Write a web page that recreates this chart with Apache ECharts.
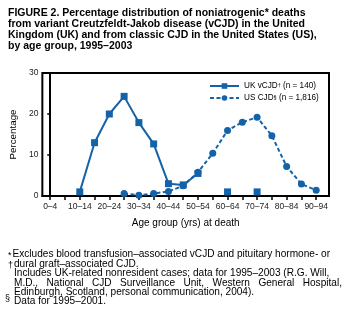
<!DOCTYPE html>
<html><head><meta charset="utf-8">
<script src="https://cdn.jsdelivr.net/npm/echarts@6/dist/echarts.min.js"></script>
<style>html,body{margin:0;padding:0;background:#fff}#c{width:347px;height:322px}</style>
</head><body><div id="c"></div>
<script>
const ageGroups = ['0–4','5–9','10–14','15–19','20–24','25–29','30–34','35–39','40–44','45–49','50–54','55–59','60–64','65–69','70–74','75–79','80–84','85–89','90–94'];
const ukVcjd = [null,null,1.0,13.0,20.0,24.3,17.9,12.7,3.0,2.7,5.5,null,1.0,null,1.0,null,null,null,null];
const usCjd  = [null,null,null,null,null,0.6,0.2,0.6,1.1,2.5,5.8,10.4,16.0,18.0,19.2,14.7,7.2,2.9,1.4];
const yTicks = [0,10,20,30];
const labeledIdx = [0,2,4,6,8,10,12,14,16,18];

const F = 'Liberation Sans, Arial, Helvetica, sans-serif';
const BLUE = '#1462a8';
const toPairs = arr => arr.map((v,i)=>[i, v]);

const titleLines = [
 'FIGURE 2. Percentage distribution of noniatrogenic* deaths',
 'from variant Creutzfeldt-Jakob disease (vCJD) in the United',
 'Kingdom (UK) and from classic CJD in the United States (US),',
 'by age group, 1995–2003'
];
const notes = [
 'Excludes blood transfusion–associated vCJD and pituitary hormone- or',
 'dural graft–associated CJD.',
 'Includes UK-related nonresident cases; data for 1995–2003 (R.G. Will,',
 'M.D.,   National   CJD   Surveillance   Unit,   Western   General   Hospital,',
 'Edinburgh, Scotland, personal communication, 2004).',
 'Data for 1995–2001.'
];
const noteY = [255,264.5,274,283.3,292.7,301.5];

const graphic = [];
titleLines.forEach((t,i)=>graphic.push({type:'text',left:8,top:7.5+i*11.2,style:{text:t,font:'bold 10.5px '+F,fill:'#000'}}));
notes.forEach((t,i)=>graphic.push({type:'text',left:i===0?12.5:14,top:noteY[i]-5.5,style:{text:t,font:'10.1px '+F,fill:'#000'}}));
graphic.push({type:'text',left:8,top:251.5,style:{text:'*',font:'9px '+F,fill:'#000'}});
graphic.push({type:'text',left:8,top:261,style:{text:'†',font:'9px '+F,fill:'#000'}});
graphic.push({type:'text',left:5,top:294.5,style:{text:'§',font:'9px '+F,fill:'#000'}});

const chart = echarts.init(document.getElementById('c'), null, {renderer:'canvas'});
chart.setOption({
  animation:false,
  textStyle:{fontFamily:F},
  graphic: graphic,
  grid:{left:37,top:73,right:18,bottom:126,containLabel:false,show:true,borderColor:'#000',borderWidth:2},
  legend:{
    orient:'vertical', left:204, top:77, itemWidth:29, itemHeight:7, itemGap:4,
    textStyle:{fontSize:8.2,color:'#000',fontFamily:F,
      rich:{a:{fontSize:8.2,fontFamily:F,color:'#000'},s:{fontSize:5.5,fontFamily:F,color:'#000',verticalAlign:'top',lineHeight:6}}},
    formatter: n => n==='UK' ? '{a|UK vCJD}{s|†}{a| (n = 140)}' : '{a|US CJD}{s|§}{a| (n = 1,816)}',
    data:['UK','US']
  },
  xAxis:{
    type:'value', min:-0.5333, max:18.8667,
    axisLine:{show:true,lineStyle:{color:'#000',width:2}},
    axisTick:{show:true,customValues:ageGroups.map((_,i)=>i),length:4,lineStyle:{color:'#000',width:1.5}},
    axisLabel:{customValues:labeledIdx,formatter:v=>ageGroups[Math.round(v)]||'',fontSize:8.5,color:'#222',margin:6.5,fontFamily:F},
    splitLine:{show:false},
    name:'Age group (yrs) at death', nameLocation:'middle', nameGap:22.5,
    nameTextStyle:{fontSize:10,color:'#000',fontFamily:F}
  },
  yAxis:{
    type:'value', min:0, max:30, interval:10,
    axisLine:{show:true,lineStyle:{color:'#000',width:2}},
    axisTick:{show:true,length:3,lineStyle:{color:'#000',width:1.5}},
    axisLabel:{fontSize:8.5,color:'#222',margin:4,fontFamily:F},
    splitLine:{show:false},
    name:'Percentage', nameLocation:'middle', nameGap:22, nameRotate:90,
    nameTextStyle:{fontSize:9.8,color:'#000',fontFamily:F}
  },
  series:[
    {name:'UK',type:'line',data:toPairs(ukVcjd),symbol:'rect',symbolSize:7,connectNulls:false,
     itemStyle:{color:BLUE},lineStyle:{color:BLUE,width:2}},
    {name:'US',type:'line',data:toPairs(usCjd),symbol:'circle',symbolSize:7,connectNulls:false,
     itemStyle:{color:BLUE},lineStyle:{color:BLUE,width:2,type:[4,2.5]}}
  ]
});
</script></body></html>
